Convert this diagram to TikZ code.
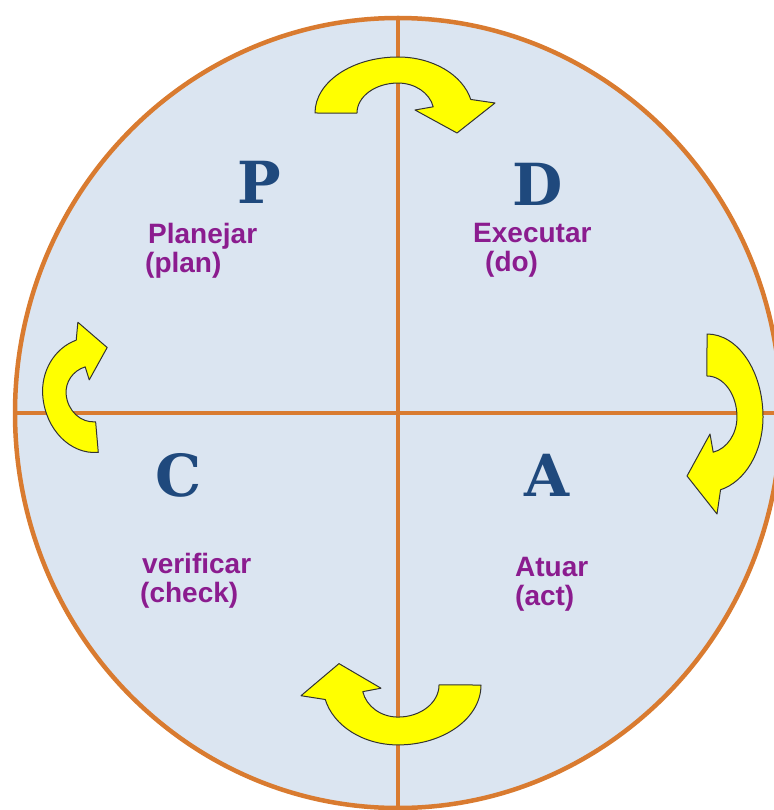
\documentclass[tikz,border=0pt]{standalone}
\usepackage{fontspec}
\usetikzlibrary{shapes.geometric}
\setmainfont{Liberation Sans}
\newfontfamily\pdcafont{DejaVu Serif}
\definecolor{pdcaorange}{HTML}{D97B30}
\definecolor{pdcafill}{HTML}{DBE5F1}
\definecolor{pdcablue}{HTML}{1F497D}
\definecolor{pdcapurple}{HTML}{8B1C8F}
\definecolor{pdcayellow}{HTML}{FFFF00}

% one curved block arrow, tail on the left, head on the right
\newcommand{\bentarrow}{%
  \filldraw[fill=pdcayellow,draw=black!80,line width=1pt,line join=round]
  (-83,0) arc[start angle=180,end angle=90,x radius=83,y radius=56]
  arc[start angle=90,end angle=14,x radius=75,y radius=56]
  -- (97,10) -- (59,-20) -- (17,3) -- (35.2,6.2)
  arc[start angle=12,end angle=90,x radius=36,y radius=30]
  arc[start angle=90,end angle=180,x radius=41,y radius=30] -- cycle;}

\begin{document}
\begin{tikzpicture}[x=1pt,y=1pt,
  cross/.style={draw=pdcaorange,line width=4.5pt},
  letterstyle/.style={text=pdcablue,font=\pdcafont\bfseries\fontsize{58}{58}\selectfont,inner sep=0pt},
  wordstyle/.style={text=pdcapurple,font=\bfseries\fontsize{28}{28}\selectfont,anchor=base west,inner sep=0pt}]
\useasboundingbox (0,0) rectangle (773,-810);
\node[ellipse,cross,fill=pdcafill,minimum width=766,minimum height=790,inner sep=0pt] (disc) at (398,-413) {};
\draw[cross] (disc.north) -- (disc.south);
\draw[cross] (disc.west) -- (disc.east);

\begin{scope}[shift={(398,-113)}] \bentarrow \end{scope}
\begin{scope}[shift={(707,-417)},rotate=-90] \bentarrow \end{scope}
\begin{scope}[shift={(398,-685)},rotate=180,yscale=1.07] \bentarrow \end{scope}
\begin{scope}[shift={(93,-392)},rotate=95,xscale=.73,yscale=.9] \bentarrow \end{scope}

\node[letterstyle] (p) at (259,-182) {P};
\node[letterstyle] (d) at (538,-184) {D};
\node[letterstyle] (c) at (179,-475) {C};
\node[letterstyle] (a) at (547,-475) {A};

\node[wordstyle] (plan1) at (148,-243) {Planejar};
\node[wordstyle] (plan2) at (145,-272) {(plan)};
\node[wordstyle] (do1) at (473,-242) {Executar};
\node[wordstyle] (do2) at (485,-271) {(do)};
\node[wordstyle] (check1) at (142,-573) {verificar};
\node[wordstyle] (check2) at (140,-602) {(check)};
\node[wordstyle] (act1) at (515,-576) {Atuar};
\node[wordstyle] (act2) at (515,-605) {(act)};
\end{tikzpicture}
\end{document}
